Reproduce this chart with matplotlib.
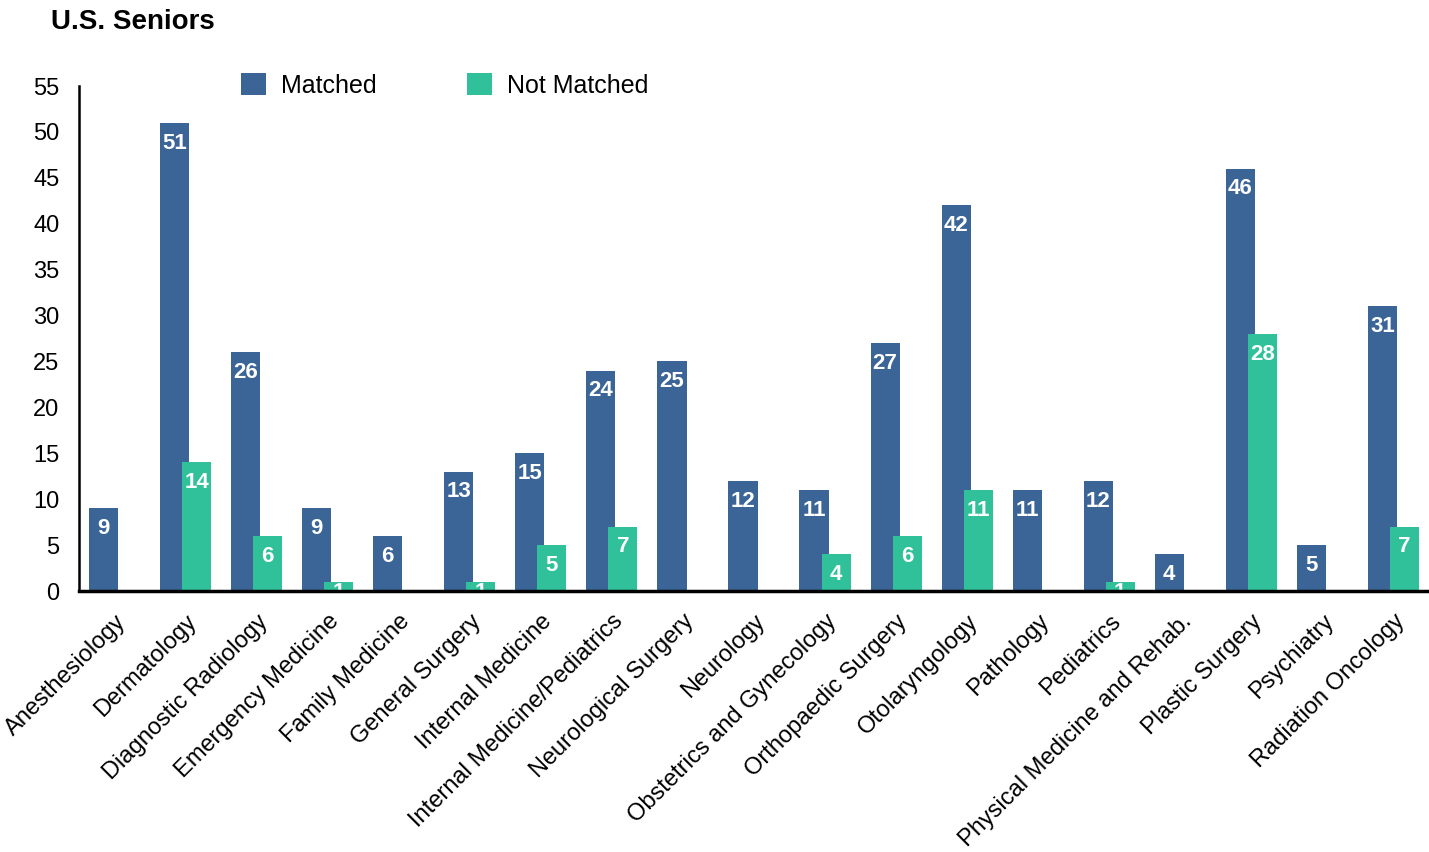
import numpy as np
import matplotlib.pyplot as plt

plt.rcParams['font.family'] = ['Liberation Sans', 'DejaVu Sans']

categories = ['Anesthesiology', 'Dermatology', 'Diagnostic Radiology', 'Emergency Medicine',
              'Family Medicine', 'General Surgery', 'Internal Medicine',
              'Internal Medicine/Pediatrics', 'Neurological Surgery', 'Neurology',
              'Obstetrics and Gynecology', 'Orthopaedic Surgery', 'Otolaryngology',
              'Pathology', 'Pediatrics', 'Physical Medicine and Rehab.', 'Plastic Surgery',
              'Psychiatry', 'Radiation Oncology']
matched = [9, 51, 26, 9, 6, 13, 15, 24, 25, 12, 11, 27, 42, 11, 12, 4, 46, 5, 31]
not_matched = [0, 14, 6, 1, 0, 1, 5, 7, 0, 0, 4, 6, 11, 0, 1, 0, 28, 0, 7]

blue = '#3A6596'
green = '#30C19B'

fig = plt.figure(figsize=(14.29, 8.52), dpi=100)
ax = fig.add_axes([0.0553, 0.3063, 0.9447, 0.5927])

x = np.arange(len(categories))
w = 0.41
off = 0.155
b1 = ax.bar(x - off, matched, w, color=blue, label='Matched', zorder=2)
b2 = ax.bar(x + off, not_matched, w, color=green, label='Not Matched', zorder=3)

# value labels inside top of bars (tiny bars: label sits at the top, clipped by the axis)
for bars, vals in [(b1, matched), (b2, not_matched)]:
    for rect, v in zip(bars, vals):
        if v == 0:
            continue
        dy = -7 if v > 2 else 0
        t = ax.annotate(str(v), (rect.get_x() + rect.get_width() / 2, v),
                        xytext=(0, dy), textcoords='offset points',
                        ha='center', va='top', color='white', fontsize=16,
                        fontweight='bold', zorder=4)
        t.set_clip_on(True)

ax.set_xlim(-0.5, len(categories) - 0.5)
ax.set_ylim(0, 55)
ax.set_yticks(np.arange(0, 56, 5))
ax.set_xticks(x)
ax.set_xticklabels(categories, rotation=45, ha='right', rotation_mode='anchor', fontsize=17)
ax.tick_params(axis='both', length=0, labelsize=17)
ax.tick_params(axis='x', pad=14)
ax.tick_params(axis='y', pad=14)

for s in ['top', 'right']:
    ax.spines[s].set_visible(False)
ax.spines['left'].set_linewidth(1.8)
ax.spines['bottom'].set_linewidth(2.5)
ax.spines['left'].set_zorder(5)
ax.spines['bottom'].set_zorder(5)

ax.legend(loc='center left', bbox_to_anchor=(0.153, 0.9), bbox_transform=fig.transFigure,
          ncol=2, frameon=False, fontsize=18, handlelength=1.0, handleheight=1.0,
          columnspacing=3.6, handletextpad=0.6)

fig.text(0.036, 0.974, 'U.S. Seniors', fontsize=20, fontweight='bold', va='center')

fig.savefig('out.png', dpi=100)
